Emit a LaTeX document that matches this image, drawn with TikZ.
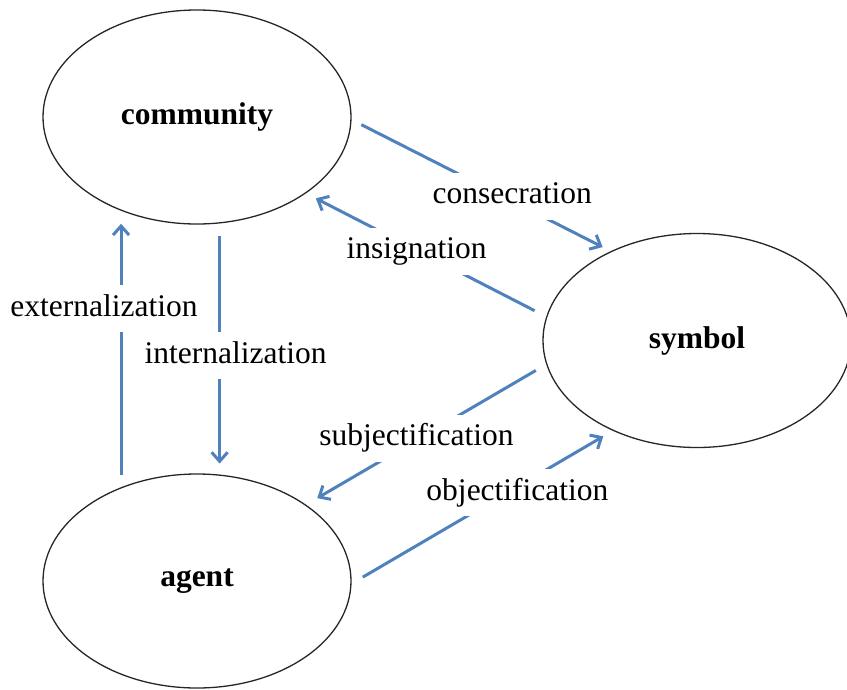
\documentclass[tikz,border=0pt]{standalone}
\usepackage{fontspec}
\setmainfont{Liberation Serif}
\usetikzlibrary{shapes.geometric,arrows.meta}
\definecolor{flowblue}{RGB}{79,129,189}
\tikzset{
  concept/.style={ellipse,draw=black!85,line width=1.3pt,inner sep=0pt,
    minimum width=308pt,minimum height=214pt,font=\fontsize{31.5}{36}\selectfont\bfseries},
  flow/.style={draw=flowblue,line width=3pt,-{Straight Barb[length=9pt,width=16pt]}},
  tag/.style={fill=white,inner xsep=3pt,inner ysep=8pt,text height=23pt,text depth=8pt,
    font=\fontsize{31.5}{36}\selectfont}
}
\begin{document}
\begin{tikzpicture}[x=1pt,y=-1pt]
                \useasboundingbox (0,0) rectangle (847,689);
                %% concepts
                \node[concept] (community) at (197,117) {community};
                \node[concept] (symbol) at (697,340.5) {symbol};
                \node[concept] (agent) at (197,581) {agent};
                %% community <-> symbol
                \draw[flow,shorten <=11pt,shorten >=9pt] (community.-1.1) -- node[tag,pos=0.62,yshift=5pt] {consecration} (symbol.134.2);
                \draw[flow,shorten <=13pt,shorten >=11pt] (symbol.171.3) -- node[tag,pos=0.54,yshift=-1pt] {insignation} (community.-35.1);
                %% agent <-> community
                \draw[flow,shorten <=12pt,shorten >=13pt] (agent.129.5) -- node[tag,pos=0.645,xshift=-17pt] {externalization} (community.-129.2);
                \draw[flow,shorten <=13pt,shorten >=11pt] (community.-78.8) -- node[tag,pos=0.526,xshift=16pt] {internalization} (agent.78.7);
                %% symbol <-> agent
                \draw[flow,shorten <=12pt,shorten >=13pt] (symbol.-171.7) -- node[tag,pos=0.54,yshift=2pt] {subjectification} (agent.35.6);
                \draw[flow,shorten <=13pt,shorten >=11pt] (agent.-1.3) -- node[tag,pos=0.635,yshift=-6pt] {objectification} (symbol.-133.6);
            \end{tikzpicture}
\end{document}
